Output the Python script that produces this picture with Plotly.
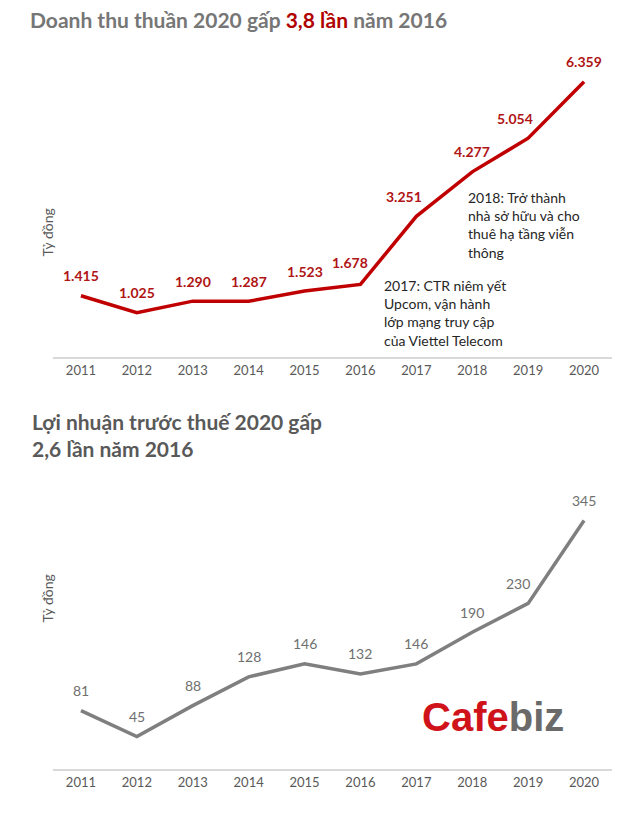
import plotly.graph_objects as go
from plotly.subplots import make_subplots

years = ["2011", "2012", "2013", "2014", "2015", "2016", "2017", "2018", "2019", "2020"]
revenue = [1415, 1025, 1290, 1287, 1523, 1678, 3251, 4277, 5054, 6359]
revenue_labels = ["1.415", "1.025", "1.290", "1.287", "1.523", "1.678", "3.251", "4.277", "5.054", "6.359"]
profit = [81, 45, 88, 128, 146, 132, 146, 190, 230, 345]
profit_labels = [str(v) for v in profit]

FONT = "Lato"
RED = "#c00000"
GRAY_LINE = "#7f7f7f"

fig = make_subplots(rows=2, cols=1, shared_xaxes=False, vertical_spacing=0.05)

fig.add_trace(go.Scatter(x=years, y=revenue, mode="lines",
                         line=dict(color=RED, width=3.5), hoverinfo="skip"), row=1, col=1)
fig.add_trace(go.Scatter(x=years, y=profit, mode="lines",
                         line=dict(color=GRAY_LINE, width=3.5), hoverinfo="skip"), row=2, col=1)

# label nudges (style only)
rev_shift = [0, 0, 0, 0, 0, -10, -12, 0, -13, 0]
rev_yshift = [20, 20, 20, 20, 20, 22, 20, 20, 20, 20]
prof_shift = [0, 0, 0, 0, 0, 0, 0, 0, -10, 0]

annotations = []
for i, (v, lab) in enumerate(zip(revenue, revenue_labels)):
    annotations.append(dict(x=i, y=v, xref="x", yref="y", text=lab, showarrow=False,
                            yshift=rev_yshift[i], xshift=rev_shift[i],
                            font=dict(family=FONT, size=14, color="#b01515", weight="bold")))
for i, (v, lab) in enumerate(zip(profit, profit_labels)):
    annotations.append(dict(x=i, y=v, xref="x2", yref="y2", text=lab, showarrow=False,
                            yshift=20, xshift=prof_shift[i],
                            font=dict(family=FONT, size=14, color="#6f6f6f")))

OFF = 8  # page body margin
W, H = 632, 811
L, R = 45, 28
PW = W - L - R

def px(xp):
    return (xp - OFF - L) / PW

def py(yp):
    return 1 - (yp - OFF) / H

annotations += [
    dict(x=px(28), y=py(20), xref="paper", yref="paper", xanchor="left", yanchor="middle",
         showarrow=False,
         text="Doanh thu thuần 2020 gấp <span style='color:#b00000'>3,8 lần</span> năm 2016",
         font=dict(family=FONT, size=21, color="#767676", weight="bold")),
    dict(x=px(30), y=py(407), xref="paper", yref="paper", xanchor="left", yanchor="top",
         showarrow=False, align="left",
         text="Lợi nhuận trước thuế 2020 gấp<br>2,6 lần năm 2016",
         font=dict(family=FONT, size=21, color="#595959", weight="bold")),
    dict(x=px(36), y=py(207), xref="paper", yref="paper", textangle=-90, showarrow=False,
         text="Tỷ đồng", font=dict(family=FONT, size=14, color="#595959")),
    dict(x=px(36), y=py(625), xref="paper", yref="paper", textangle=-90, showarrow=False,
         text="Tỷ đồng", font=dict(family=FONT, size=14, color="#595959")),
    dict(x=px(466), y=py(187), xref="paper", yref="paper", xanchor="left", yanchor="top",
         showarrow=False, align="left",
         text="2018: Trở thành<br>nhà sở hữu và cho<br>thuê hạ tầng viễn<br>thông",
         font=dict(family=FONT, size=14, color="#262626")),
    dict(x=px(382), y=py(275), xref="paper", yref="paper", xanchor="left", yanchor="top",
         showarrow=False, align="left",
         text="2017: CTR niêm yết<br>Upcom, vận hành<br>lớp mạng truy cập<br>của Viettel Telecom",
         font=dict(family=FONT, size=14, color="#262626")),
    dict(x=px(493), y=py(717), xref="paper", yref="paper", xanchor="center", yanchor="middle",
         showarrow=False,
         text="<span style='color:#d0121b'>Cafe</span><span style='color:#6a6a6a'>biz</span>",
         font=dict(family="Liberation Sans", size=40, weight="bold")),
]

axis_x = dict(type="category", range=[-0.5, 9.5], showline=True, linecolor="#d9d9d9",
              linewidth=2, showgrid=False, zeroline=False, ticks="",
              tickfont=dict(family=FONT, size=13, color="#595959"), fixedrange=True)
axis_y = dict(showticklabels=False, showgrid=False, zeroline=False, showline=False, ticks="")

fig.update_layout(
    width=W, height=H,
    margin=dict(l=L, r=R, t=0, b=0),
    paper_bgcolor="white", plot_bgcolor="white",
    showlegend=False,
    xaxis=dict(axis_x, domain=[0, 1]),
    xaxis2=dict(axis_x, domain=[0, 1]),
    yaxis=dict(axis_y, range=[0, 7000], domain=[py(357), py(54)]),
    yaxis2=dict(axis_y, range=[0, 400], domain=[py(769), py(481)]),
    annotations=annotations,
)

fig.write_html("out.html")
